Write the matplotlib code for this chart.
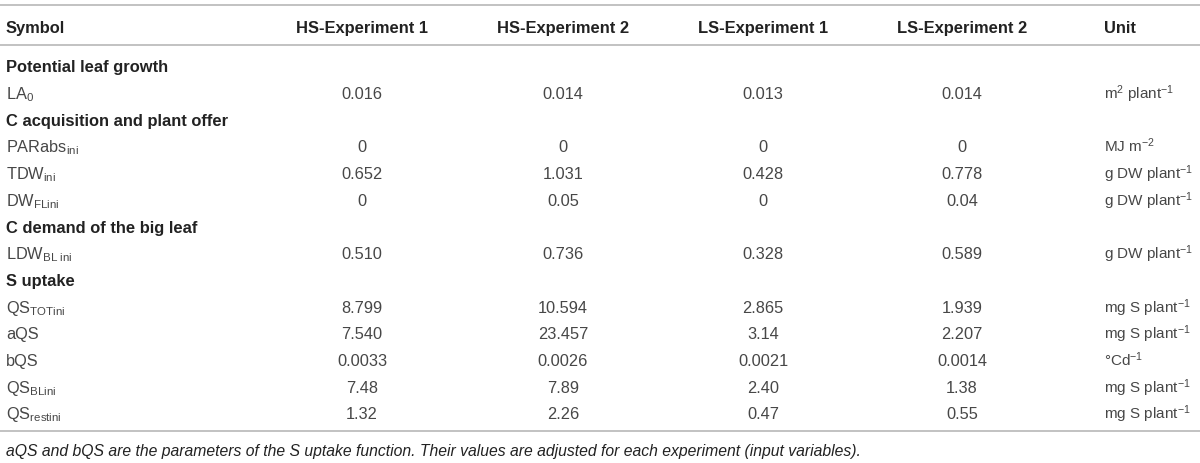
import matplotlib
matplotlib.use("Agg")
import matplotlib.pyplot as plt

plt.rcParams['font.family'] = ['Liberation Sans', 'DejaVu Sans']
plt.rcParams['mathtext.fontset'] = 'custom'
plt.rcParams['mathtext.rm'] = 'Liberation Sans'
plt.rcParams['mathtext.it'] = 'Liberation Sans:italic'
plt.rcParams['mathtext.bf'] = 'Liberation Sans:bold'

# ---- data ----
headers = ["Symbol", "HS-Experiment 1", "HS-Experiment 2", "LS-Experiment 1", "LS-Experiment 2", "Unit"]
sections = ["Potential leaf growth", "C acquisition and plant offer",
            "C demand of the big leaf", "S uptake"]
row_section = [0, 1, 1, 1, 2, 3, 3, 3, 3, 3]
symbols = [r"LA$_{\mathrm{0}}$", r"PARabs$_{\mathrm{ini}}$", r"TDW$_{\mathrm{ini}}$",
           r"DW$_{\mathrm{FLini}}$", r"LDW$_{\mathrm{BL\ ini}}$", r"QS$_{\mathrm{TOTini}}$",
           "aQS", "bQS", r"QS$_{\mathrm{BLini}}$", r"QS$_{\mathrm{restini}}$"]
hs_exp1 = ["0.016", "0", "0.652", "0", "0.510", "8.799", "7.540", "0.0033", "7.48", "1.32"]
hs_exp2 = ["0.014", "0", "1.031", "0.05", "0.736", "10.594", "23.457", "0.0026", "7.89", "2.26"]
ls_exp1 = ["0.013", "0", "0.428", "0", "0.328", "2.865", "3.14", "0.0021", "2.40", "0.47"]
ls_exp2 = ["0.014", "0", "0.778", "0.04", "0.589", "1.939", "2.207", "0.0014", "1.38", "0.55"]
units = [r"m$^{2}$ plant$^{-1}$", r"MJ m$^{-2}$", r"g DW plant$^{-1}$", r"g DW plant$^{-1}$",
         r"g DW plant$^{-1}$", r"mg S plant$^{-1}$", r"mg S plant$^{-1}$", r"$\degree$Cd$^{-1}$",
         r"mg S plant$^{-1}$", r"mg S plant$^{-1}$"]
footnote = ("aQS and bQS are the parameters of the S uptake function. "
            "Their values are adjusted for each experiment (input variables).")

# ---- layout ----
W, H = 1200, 464
fig = plt.figure(figsize=(W / 100, H / 100), dpi=100)
ax = fig.add_axes([0, 0, 1, 1])
ax.set_xlim(0, W)
ax.set_ylim(H, 0)
ax.axis('off')

text_col = '#222222'
data_col = '#474747'
line_col = '#bdbdbd'
fs_bold = 11.9
fs = 11.8
fs_unit = 11.0
fs_note = 11.3

x_sym = 6
x_cols = [362, 563, 763, 962]
x_unit = 1104
base_off = 5.9  # half cap-height, pixels: row centre -> baseline


def put(x, y, s, ha='left', bold=False, size=fs, color=data_col, style='normal'):
    ax.text(x, y + base_off, s, ha=ha, va='baseline', fontsize=size,
            fontweight='bold' if bold else 'normal', color=color, style=style)


# rules
for y in (6, 46, 432):
    ax.plot([0, W], [y, y], color=line_col, lw=1.3, solid_capstyle='butt')

# header
y_head = 27
put(x_sym, y_head, headers[0], bold=True, size=fs_bold, color=text_col)
for xc, h in zip(x_cols, headers[1:5]):
    put(xc, y_head, h, ha='center', bold=True, size=fs_bold, color=text_col)
put(x_unit, y_head, headers[5], bold=True, size=fs_bold, color=text_col)

# body
y0 = 66.5
dy = 26.7
line_i = 0
prev_sec = -1
cols = [hs_exp1, hs_exp2, ls_exp1, ls_exp2]
for r in range(len(symbols)):
    if row_section[r] != prev_sec:
        prev_sec = row_section[r]
        put(x_sym, y0 + line_i * dy, sections[prev_sec], bold=True, size=fs_bold,
            color=text_col)
        line_i += 1
    y = y0 + line_i * dy
    put(x_sym, y, symbols[r])
    for xc, col in zip(x_cols, cols):
        put(xc, y, col[r], ha='center')
    put(x_unit, y, units[r], size=fs_unit)
    line_i += 1

put(x_sym, 450, footnote, size=fs_note, color=text_col, style='italic')

fig.savefig('out.png', dpi=100)
